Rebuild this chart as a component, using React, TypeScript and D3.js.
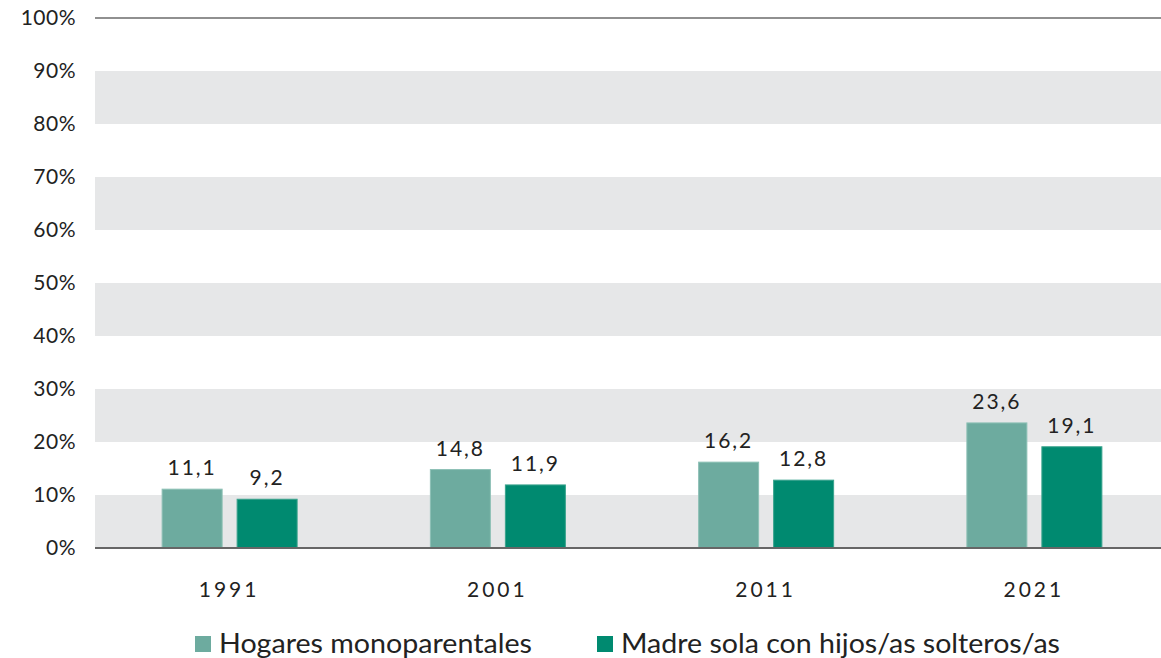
import React, { useEffect, useRef } from 'react';
import * as d3 from 'd3';

const years = ['1991', '2001', '2011', '2021'];
const hogares = [11.1, 14.8, 16.2, 23.6];
const madres = [9.2, 11.9, 12.8, 19.1];
const seriesNames = ['Hogares monoparentales', 'Madre sola con hijos/as solteros/as'];
const seriesColors = ['#6dab9f', '#008a70'];
const yTicks = [0, 10, 20, 30, 40, 50, 60, 70, 80, 90, 100];
const bands = [0, 20, 40, 60, 80];

const fmt = (v: number) => v.toFixed(1).replace('.', ',');

const App: React.FC = () => {
  const svgRef = useRef<SVGSVGElement>(null);

  useEffect(() => {
    if (!svgRef.current) return;
    const svg = d3.select(svgRef.current);
    svg.selectAll('*').remove();

    const left = 95;
    const right = 1161;
    const top = 18;
    const bottom = 548;
    const font = 'Lato, sans-serif';

    const x = d3.scaleBand().domain(years).range([left, 1168]);
    const y = d3.scaleLinear().domain([0, 100]).range([bottom, top]);

    svg.append('g').selectAll('rect')
      .data(bands)
      .join('rect')
      .attr('x', left)
      .attr('width', right - left)
      .attr('y', d => y(d + 10))
      .attr('height', d => y(d) - y(d + 10))
      .attr('fill', '#e6e7e8');

    svg.append('line')
      .attr('x1', left).attr('x2', right)
      .attr('y1', y(100)).attr('y2', y(100))
      .attr('stroke', '#222').attr('stroke-width', 1.2);

    svg.append('g').selectAll('text')
      .data(yTicks)
      .join('text')
      .attr('x', 76)
      .attr('y', d => y(d) + 7)
      .attr('text-anchor', 'end')
      .attr('font-family', font)
      .attr('font-size', 21)
      .attr('letter-spacing', 0.5)
      .attr('fill', '#222')
      .text(d => `${d}%`);

    const barW = 60;
    const series = [hogares, madres];
    const offsets = [-67, 8];

    series.forEach((vals, si) => {
      const g = svg.append('g');
      g.selectAll('rect')
        .data(vals)
        .join('rect')
        .attr('x', (_, i) => x(years[i])! + x.bandwidth() / 2 + offsets[si])
        .attr('width', barW)
        .attr('y', d => y(d))
        .attr('height', d => y(0) - y(d))
        .attr('fill', seriesColors[si])
        .attr('stroke', si === 0 ? '#8cc0b5' : '#3aa38d')
        .attr('stroke-width', 1);
      g.selectAll('text')
        .data(vals)
        .join('text')
        .attr('x', (_, i) => x(years[i])! + x.bandwidth() / 2 + offsets[si] + barW / 2)
        .attr('y', d => y(d) - 14)
        .attr('text-anchor', 'middle')
        .attr('font-family', font)
        .attr('font-size', 21)
        .attr('letter-spacing', 2)
        .attr('fill', '#222')
        .text(d => fmt(d));
    });

    svg.append('line')
      .attr('x1', left).attr('x2', right)
      .attr('y1', y(0)).attr('y2', y(0))
      .attr('stroke', '#666').attr('stroke-width', 2);

    svg.append('g').selectAll('text')
      .data(years)
      .join('text')
      .attr('x', d => x(d)! + x.bandwidth() / 2)
      .attr('y', 597)
      .attr('text-anchor', 'middle')
      .attr('font-family', font)
      .attr('font-size', 21)
      .attr('letter-spacing', 3)
      .attr('fill', '#222')
      .text(d => d);

    const legendX = [195, 597];
    const legendW = [313, 439];
    const lg = svg.append('g');
    seriesNames.forEach((name, i) => {
      lg.append('rect')
        .attr('x', legendX[i]).attr('y', 636)
        .attr('width', 16).attr('height', 16)
        .attr('fill', seriesColors[i]);
      lg.append('text')
        .attr('x', legendX[i] + 24)
        .attr('y', 653)
        .attr('font-family', font)
        .attr('font-size', 26)
        .attr('textLength', legendW[i])
        .attr('lengthAdjust', 'spacingAndGlyphs')
        .attr('fill', '#222')
        .text(name);
    });
  }, []);

  return (
    <svg ref={svgRef} width={1161} height={658}
      style={{ position: 'absolute', left: 0, top: 0, background: '#fff' }} />
  );
};

export default App;
